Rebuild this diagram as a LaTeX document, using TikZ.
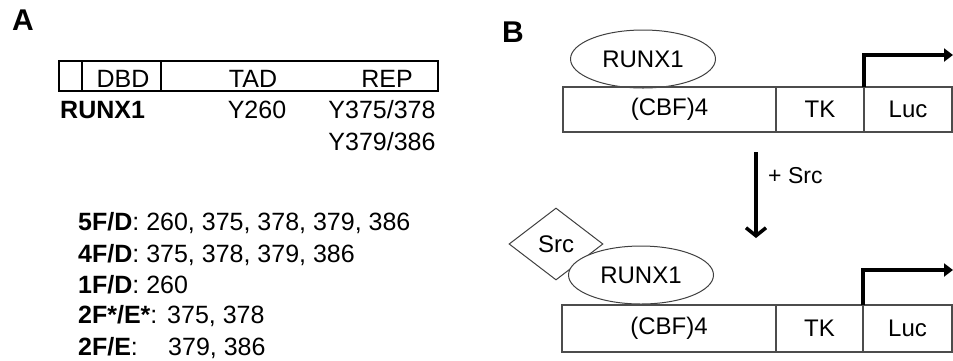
\documentclass[tikz,border=0pt]{standalone}
\usepackage{fontspec}
\setmainfont{Liberation Sans}
\usetikzlibrary{shapes.geometric,arrows.meta}
\begin{document}
\begin{tikzpicture}[x=1pt,y=-1pt,
  lbl/.style={font=\fontsize{30}{34}\selectfont\bfseries, inner sep=0pt, anchor=base west},
  txtA/.style={font=\fontsize{25}{30}\selectfont, inner sep=0pt},
  txtB/.style={font=\fontsize{24}{28}\selectfont, inner sep=0pt},
  boxA/.style={draw=black, line width=1.6pt, inner sep=0pt, outer sep=0pt, minimum height=30pt, anchor=north west},
  cell/.style={draw=black!70, line width=1.1pt, inner sep=0pt, outer sep=0pt, anchor=north west, font=\fontsize{24}{28}\selectfont},
  prot/.style={ellipse, draw=black!75, line width=1pt, fill=white, inner sep=0pt, minimum width=145pt, minimum height=58pt, font=\fontsize{24}{28}\selectfont},
  kinase/.style={diamond, draw=black!75, line width=1pt, fill=white, inner sep=0pt, minimum width=94pt, minimum height=72pt, font=\fontsize{24}{28}\selectfont},
  prom/.style={line width=4pt, -{Triangle[length=9pt,width=13pt]}},
  step arrow/.style={line width=3.5pt, -{Straight Barb[length=8pt,width=20pt]}}
]
\useasboundingbox (0,0) rectangle (953,360);

% ---------- Panel A ----------
\node[lbl] (labA) at (12,30) {A};

\node[boxA, minimum width=23pt] (nterm) at (59,61) {};
\node[boxA, minimum width=79pt] (dbd) at (82,61) {};
\node[boxA, minimum width=277pt] (rest) at (161,61) {};
\node[txtA, anchor=base] (tDBD) at (123,87) {DBD};
\node[txtA, anchor=base] (tTAD) at (253,87) {TAD};
\node[txtA, anchor=base] (tREP) at (387,87) {REP};

\node[txtA, anchor=base west, font=\fontsize{25}{30}\selectfont\bfseries] (runxA) at (60,118) {RUNX1};
\node[txtA, anchor=base] (y260) at (257,118) {Y260};
\node[txtA, anchor=base] (y375) at (382,118) {Y375/378};
\node[txtA, anchor=base] (y379) at (382,150) {Y379/386};

\node[txtA, anchor=base west] (m5) at (78,230) {\textbf{5F/D}: 260, 375, 378, 379, 386};
\node[txtA, anchor=base west] (m4) at (78,262) {\textbf{4F/D}: 375, 378, 379, 386};
\node[txtA, anchor=base west] (m1) at (78,293) {\textbf{1F/D}: 260};
\node[txtA, anchor=base west] (m2s) at (78,323) {\textbf{2F*/E*}:};
\node[txtA, anchor=base west] (m2sv) at (167,323) {375, 378};
\node[txtA, anchor=base west] (m2) at (78,355) {\textbf{2F/E}:};
\node[txtA, anchor=base west] (m2v) at (168,355) {379, 386};

% ---------- Panel B ----------
\node[lbl] (labB) at (502,42) {B};

% top construct
\node[prot] (runxT) at (643,59) {RUNX1};
\node[cell, minimum width=213pt, minimum height=45pt] (cbfT) at (563,87) {(CBF)4};
\node[cell, minimum width=88pt, minimum height=45pt] (tkT) at (776,87) {TK};
\node[cell, minimum width=88pt, minimum height=45pt] (lucT) at (864,87) {Luc};
\coordinate (tipT) at (953,55);
\draw[prom] (lucT.north west) |- (tipT);

% step arrow
\coordinate (arrS) at (756,152);
\coordinate (arrE) at (756,238);
\draw[step arrow] (arrS) -- (arrE);
\node[font=\fontsize{23}{27}\selectfont, inner sep=0pt, anchor=base west] (plusSrc) at (768,183) {+ Src};

% bottom construct
\node[kinase] (src) at (556,244) {Src};
\node[prot] (runxB) at (641,275) {RUNX1};
\node[cell, minimum width=214pt, minimum height=47pt] (cbfB) at (562,305) {(CBF)4};
\node[cell, minimum width=87pt, minimum height=47pt] (tkB) at (776,305) {TK};
\node[cell, minimum width=89pt, minimum height=47pt] (lucB) at (863,305) {Luc};
\coordinate (tipB) at (953,270);
\draw[prom] (lucB.north west) |- (tipB);
\end{tikzpicture}
\end{document}
